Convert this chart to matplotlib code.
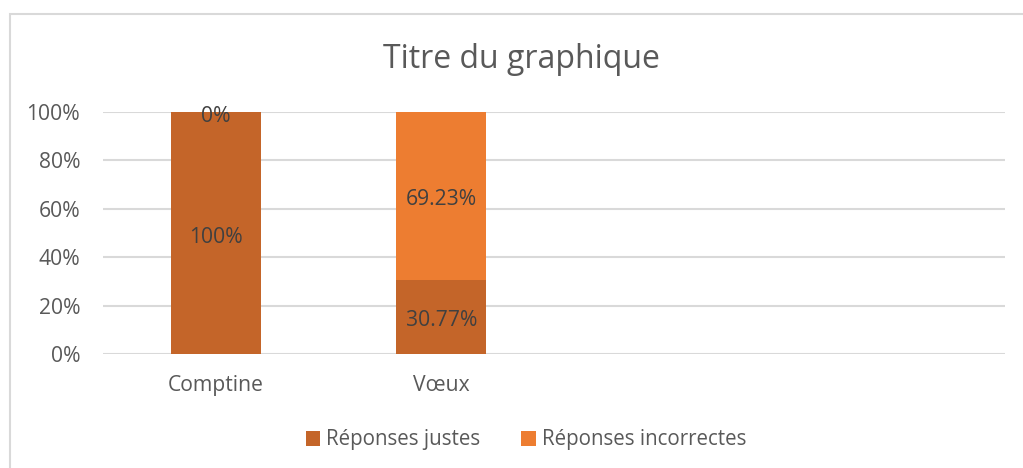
import matplotlib
matplotlib.use("Agg")
import matplotlib.pyplot as plt
from matplotlib.patches import Rectangle
import numpy as np

plt.rcParams['font.family'] = ['Open Sans', 'DejaVu Sans']

categories = ["Comptine", "Vœux", "", ""]
justes = [100, 30.77, 0, 0]          # Réponses justes (%)
incorrectes = [0, 69.23, 0, 0]       # Réponses incorrectes (%)
labels_justes = ["100%", "30.77%", None, None]
labels_incorrectes = ["0%", "69.23%", None, None]
yticks = [0, 20, 40, 60, 80, 100]

C_JUSTES = "#C46529"
C_INCORR = "#ED7D31"
TXT = "#595959"
FS = 15.2

W, H = 1023, 468
fig = plt.figure(figsize=(W / 100, H / 100), dpi=100)
ax = fig.add_axes([103 / W, (H - 354) / H, (1005 - 103) / W, (354 - 112) / H])

# chart frame (cropped at right/bottom like the screenshot)
fig.patches.append(Rectangle((10 / W, -0.1), 1.2, (H - 14) / H + 0.1,
                             transform=fig.transFigure, fill=False,
                             edgecolor="#D9D9D9", linewidth=1.5))

x = np.arange(len(categories))
ax.bar(x, justes, width=0.4, color=C_JUSTES, label="Réponses justes", zorder=3)
ax.bar(x, incorrectes, width=0.4, bottom=justes, color=C_INCORR,
       label="Réponses incorrectes", zorder=3)

def put_label(xv, yv, txt):
    ax.annotate(txt, (xv, yv), xytext=(0, -3), textcoords="offset points",
                ha="center", va="center", fontsize=FS, color="#404040", zorder=4)

for i in range(len(categories)):
    if labels_justes[i] is not None:
        put_label(x[i], justes[i] / 2, labels_justes[i])
    if labels_incorrectes[i] is not None:
        put_label(x[i], justes[i] + incorrectes[i] / 2, labels_incorrectes[i])

ax.set_xlim(-0.5, len(categories) - 0.5)
ax.set_ylim(0, 100)
ax.set_yticks(yticks)
ax.set_yticklabels([f"{v}%" for v in yticks], fontsize=FS, color=TXT)
ax.set_xticks(x)
ax.set_xticklabels(categories, fontsize=FS, color=TXT)
ax.tick_params(axis="both", length=0)
ax.tick_params(axis="y", pad=16.5)
ax.tick_params(axis="x", pad=15)
ax.grid(axis="y", color="#D9D9D9", linewidth=1.5, zorder=0)
for s in ax.spines.values():
    s.set_visible(False)

fig.text(521 / W, 1 - 59 / H, "Titre du graphique", ha="center", va="center",
         fontsize=23, color=TXT)

fig.legend(loc="center", bbox_to_anchor=(526 / W, 1 - 440 / H), ncol=2,
           frameon=False, fontsize=14.8, labelcolor=TXT, handlelength=0.7,
           handleheight=0.7, handletextpad=0.3, columnspacing=2.0)

fig.savefig("out.png", dpi=100, facecolor="white")
